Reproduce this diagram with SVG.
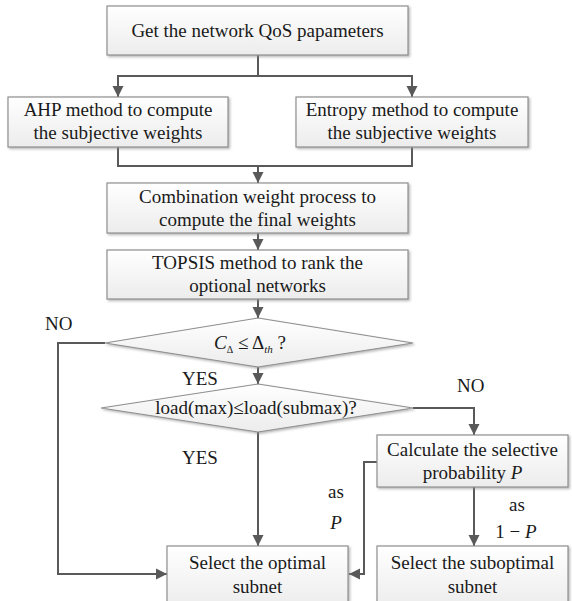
<svg xmlns="http://www.w3.org/2000/svg" width="572" height="601" viewBox="0 0 572 601">
<style>
text{font-family:"Liberation Serif","Times New Roman",serif;font-size:19px;fill:#1a1a1a}
.c{text-anchor:middle}
.box{fill:url(#g);stroke:#8f8f8f;stroke-width:1.2;filter:url(#sh)}
.ln{fill:none;stroke:#595959;stroke-width:2}
.it{font-style:italic}
</style>
<defs>
<linearGradient id="g" x1="0" y1="0" x2="0" y2="1">
<stop offset="0" stop-color="#ffffff"/>
<stop offset="1" stop-color="#ececec"/>
</linearGradient>
<filter id="sh" x="-5%" y="-5%" width="110%" height="120%">
<feDropShadow dx="1.5" dy="1.5" stdDeviation="0.8" flood-color="#888" flood-opacity="0.6"/>
</filter>
<marker id="ar" markerUnits="userSpaceOnUse" markerWidth="12" markerHeight="12" refX="11" refY="6" orient="auto">
<path d="M0,0.5 L11,6 L0,11.5 z" fill="#595959"/>
</marker>
</defs>
<g id="connectors">
<path class="ln" d="M258,55 V76"/>
<path class="ln" d="M258,76 H118 V97" marker-end="url(#ar)"/>
<path class="ln" d="M258,76 H412 V97" marker-end="url(#ar)"/>
<path class="ln" d="M118,147 V166 H412 V147"/>
<path class="ln" d="M258,166 V183" marker-end="url(#ar)"/>
<path class="ln" d="M258,233 V250" marker-end="url(#ar)"/>
<path class="ln" d="M258,299 V318" marker-end="url(#ar)"/>
<path class="ln" d="M105,343 H58 V574 H167" marker-end="url(#ar)"/>
<path class="ln" d="M258,367 V384" marker-end="url(#ar)"/>
<path class="ln" d="M413,408 H474 V435" marker-end="url(#ar)"/>
<path class="ln" d="M258,432 V546" marker-end="url(#ar)"/>
<path class="ln" d="M377,462 H364 V574 H349" marker-end="url(#ar)"/>
<path class="ln" d="M474,487 V546" marker-end="url(#ar)"/>
</g>
<g id="n_get">
<rect class="box" x="107" y="6" width="301" height="49"/>
<text class="c" x="257.5" y="37">Get the network QoS papameters</text>
</g>
<g id="n_ahp">
<rect class="box" x="8" y="97" width="220" height="50"/>
<text class="c" x="118" y="116">AHP method to compute</text>
<text class="c" x="118" y="139">the subjective weights</text>
</g>
<g id="n_entropy">
<rect class="box" x="296" y="97" width="232" height="50"/>
<text class="c" x="412" y="116">Entropy method to compute</text>
<text class="c" x="412" y="139">the subjective weights</text>
</g>
<g id="n_comb">
<rect class="box" x="107" y="183" width="301" height="50"/>
<text class="c" x="257.5" y="203">Combination weight process to</text>
<text class="c" x="257.5" y="226">compute the final weights</text>
</g>
<g id="n_topsis">
<rect class="box" x="107" y="250" width="301" height="49"/>
<text class="c" x="257.5" y="269">TOPSIS method to rank the</text>
<text class="c" x="257.5" y="292">optional networks</text>
</g>
<g id="n_d1">
<polygon class="box" points="258,318 413,343 258,367 105,343"/>
<text class="c" x="250" y="349"><tspan class="it">C</tspan><tspan font-size="10" dy="4">Δ</tspan><tspan dy="-4"> ≤ Δ</tspan><tspan class="it" font-size="11" dy="4">th</tspan><tspan dy="-4"> ?</tspan></text>
</g>
<g id="n_d2">
<polygon class="box" points="258,384 413,408 258,432 101,408"/>
<text class="c" x="256" y="414">load(max)≤load(submax)?</text>
</g>
<g id="n_calc">
<rect class="box" x="377" y="435" width="191" height="52"/>
<text class="c" x="472.5" y="456">Calculate the selective</text>
<text class="c" x="472.5" y="479">probability <tspan class="it">P</tspan></text>
</g>
<g id="n_opt">
<rect class="box" x="167" y="546" width="181" height="62"/>
<text class="c" x="257.5" y="569">Select the optimal</text>
<text class="c" x="257.5" y="593">subnet</text>
</g>
<g id="n_subopt">
<rect class="box" x="377" y="546" width="191" height="62"/>
<text class="c" x="472.5" y="569">Select the suboptimal</text>
<text class="c" x="472.5" y="593">subnet</text>
</g>
<g id="labels">
<text x="45" y="330">NO</text>
<text x="182" y="385">YES</text>
<text x="457" y="392">NO</text>
<text x="182" y="464">YES</text>
<text class="c" x="336" y="498">as</text>
<text class="c it" x="336" y="529">P</text>
<text class="c" x="517" y="511">as</text>
<text class="c" x="516" y="538">1 − <tspan class="it">P</tspan></text>
</g>
</svg>
